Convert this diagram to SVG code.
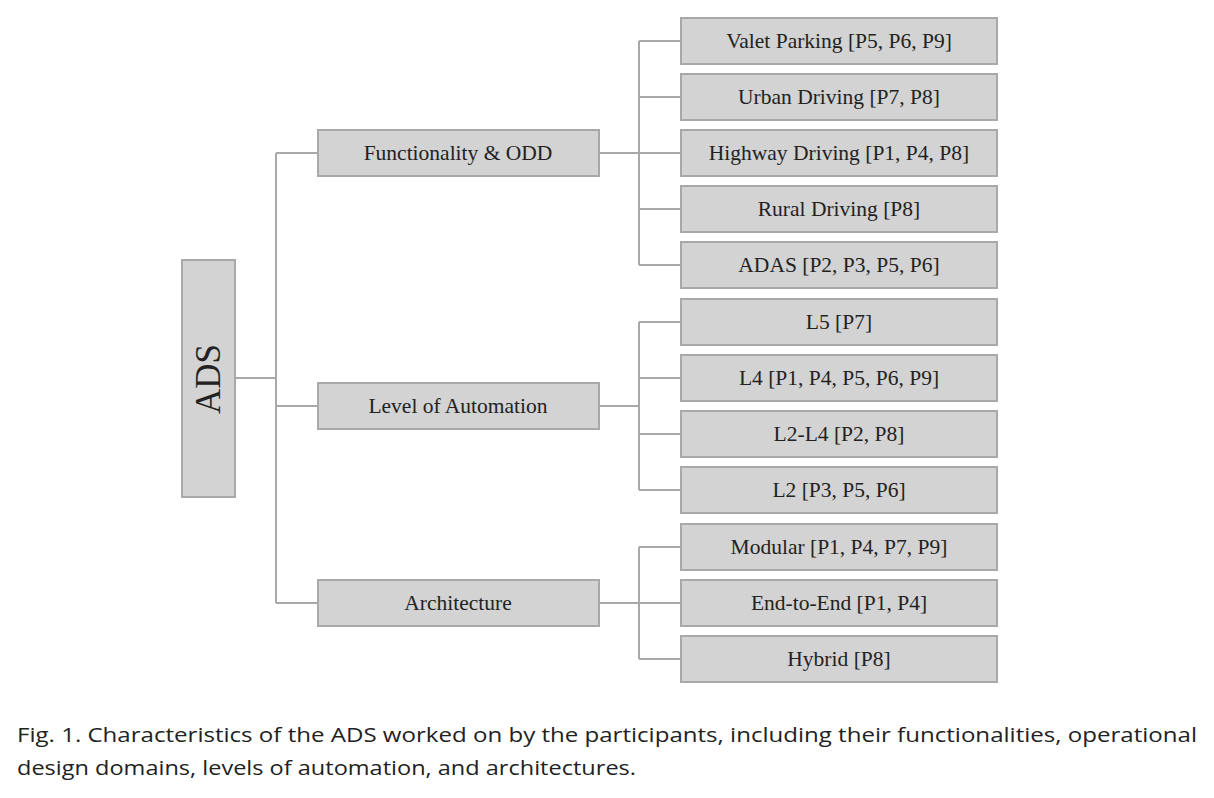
<svg xmlns="http://www.w3.org/2000/svg" width="1214" height="798" viewBox="0 0 1214 798">
<style>
.b{fill:#d3d3d3;stroke:#a9a9a9;stroke-width:2}
.t{font-family:"Liberation Serif",serif;font-size:21.5px;fill:#222;text-anchor:middle;dominant-baseline:central}
.c{font-family:"Open Sans","Liberation Sans",sans-serif;font-size:20px;fill:#222}
.l{stroke:#a9a9a9;stroke-width:2;fill:none}
</style>
<rect width="1214" height="798" fill="#fff"/>
<g id="connectors" class="l">
<path d="M235 378H276M276 153V603M276 153H318M276 406H318M276 603H318"/>
<path d="M599 153H639M639 41V265M639 41H681M639 97H681M639 153H681M639 209H681M639 265H681"/>
<path d="M599 406H639M639 322V490M639 322H681M639 378H681M639 434H681M639 490H681"/>
<path d="M599 603H639M639 547V659M639 547H681M639 603H681M639 659H681"/>
</g>
<g id="ads"><rect class="b" x="182" y="260" width="53" height="237"/><text class="t" style="font-size:35px" transform="translate(208 379) rotate(-90)">ADS</text></g>
<g id="func"><rect class="b" x="318" y="130" width="281" height="46"/><text class="t" x="458" y="153">Functionality &amp; ODD</text></g>
<g id="level"><rect class="b" x="318" y="383" width="281" height="46"/><text class="t" x="458" y="406">Level of Automation</text></g>
<g id="arch"><rect class="b" x="318" y="580" width="281" height="46"/><text class="t" x="458" y="603">Architecture</text></g>
<g id="valet"><rect class="b" x="681" y="18" width="316" height="46"/><text class="t" x="839" y="41">Valet Parking [P5, P6, P9]</text></g>
<g id="urban"><rect class="b" x="681" y="74" width="316" height="46"/><text class="t" x="839" y="97">Urban Driving [P7, P8]</text></g>
<g id="highway"><rect class="b" x="681" y="130" width="316" height="46"/><text class="t" x="839" y="153">Highway Driving [P1, P4, P8]</text></g>
<g id="rural"><rect class="b" x="681" y="186" width="316" height="46"/><text class="t" x="839" y="209">Rural Driving [P8]</text></g>
<g id="adas"><rect class="b" x="681" y="242" width="316" height="46"/><text class="t" x="839" y="265">ADAS [P2, P3, P5, P6]</text></g>
<g id="l5"><rect class="b" x="681" y="299" width="316" height="46"/><text class="t" x="839" y="322">L5 [P7]</text></g>
<g id="l4"><rect class="b" x="681" y="355" width="316" height="46"/><text class="t" x="839" y="378">L4 [P1, P4, P5, P6, P9]</text></g>
<g id="l2l4"><rect class="b" x="681" y="411" width="316" height="46"/><text class="t" x="839" y="434">L2-L4 [P2, P8]</text></g>
<g id="l2"><rect class="b" x="681" y="467" width="316" height="46"/><text class="t" x="839" y="490">L2 [P3, P5, P6]</text></g>
<g id="modular"><rect class="b" x="681" y="524" width="316" height="46"/><text class="t" x="839" y="547">Modular [P1, P4, P7, P9]</text></g>
<g id="e2e"><rect class="b" x="681" y="580" width="316" height="46"/><text class="t" x="839" y="603">End-to-End [P1, P4]</text></g>
<g id="hybrid"><rect class="b" x="681" y="636" width="316" height="46"/><text class="t" x="839" y="659">Hybrid [P8]</text></g>
<text class="c" x="17" y="742" textLength="1180" lengthAdjust="spacingAndGlyphs">Fig. 1.  Characteristics of the ADS worked on by the participants, including their functionalities, operational</text>
<text class="c" x="17" y="775" textLength="619" lengthAdjust="spacingAndGlyphs">design domains, levels of automation, and architectures.</text>
</svg>
